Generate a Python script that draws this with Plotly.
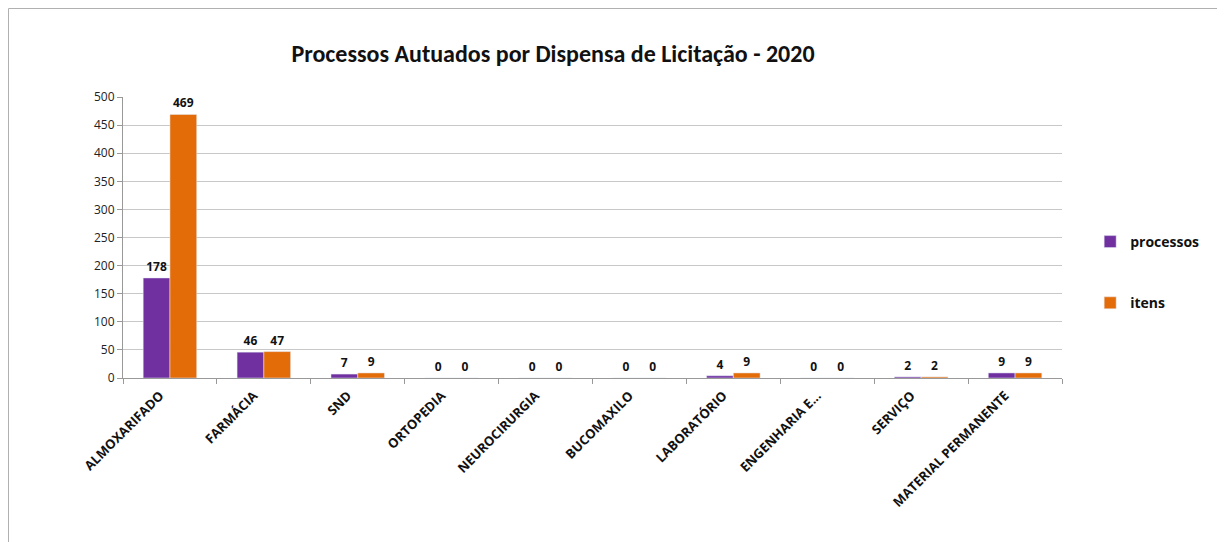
import plotly.graph_objects as go

categorias = [
    "ALMOXARIFADO", "FARMÁCIA", "SND", "ORTOPEDIA", "NEUROCIRURGIA",
    "BUCOMAXILO", "LABORATÓRIO", "ENGENHARIA E...", "SERVIÇO", "MATERIAL PERMANENTE",
]
processos = [178, 46, 7, 0, 0, 0, 4, 0, 2, 9]
itens = [469, 47, 9, 0, 0, 0, 9, 0, 2, 9]
y_ticks = [0, 50, 100, 150, 200, 250, 300, 350, 400, 450, 500]

FONT = "'Open Sans', sans-serif"
TITLE_FONT = "Carlito, 'Liberation Sans Narrow', 'Open Sans', sans-serif"
LABEL_FONT = dict(family=FONT, size=12, color="#111")

# a página tem ~8px de margem no corpo; as medidas abaixo já descontam isso
L, R, T, B = 115, 171, 89, 172
PW, PH = 1225 - L - R, 542 - T - B

fig = go.Figure()
fig.add_trace(go.Bar(
    x=categorias, y=processos, name="<b>processos</b>",
    marker=dict(color="#7030A0"),
    text=[f"<b>{v}</b>" for v in processos], textposition="outside",
    textfont=LABEL_FONT, cliponaxis=False, legendgroup="a",
))
fig.add_trace(go.Bar(
    x=categorias, y=itens, name="<b>itens</b>",
    marker=dict(color="#E36C09"),
    text=[f"<b>{v}</b>" for v in itens], textposition="outside",
    textfont=LABEL_FONT, cliponaxis=False, legendgroup="b",
))

# moldura (linha superior e esquerda)
frame = dict(color="#b0b0b0", width=1)
top = (542 - B - 0.5) / PH
left = (0.5 - L) / PW
fig.add_shape(type="line", xref="paper", yref="paper",
              x0=left, x1=(1225 - L) / PW, y0=top, y1=top, line=frame)
fig.add_shape(type="line", xref="paper", yref="paper",
              x0=left, x1=left, y0=-B / PH, y1=top, line=frame)

fig.update_layout(
    width=1225, height=542,
    margin=dict(l=L, r=R, t=T, b=B),
    paper_bgcolor="white", plot_bgcolor="white",
    title=dict(
        text="<b>Processos Autuados por Dispensa de Licitação - 2020</b>",
        x=545 / 1225, xanchor="center", y=1 - 46 / 542, yanchor="middle",
        font=dict(family=TITLE_FONT, size=24, color="#111"),
    ),
    barmode="group", bargap=0.43, bargroupgap=0,
    showlegend=True,
    legend=dict(
        x=1.03, y=(542 - B - 218) / PH, xanchor="left", yanchor="top",
        traceorder="grouped", tracegroupgap=40,
        font=dict(family=FONT, size=14, color="#111"),
        itemwidth=30,
    ),
    font=dict(family=FONT, color="#222"),
)
fig.update_xaxes(
    tickangle=-45, tickson="boundaries", ticks="outside", ticklen=5,
    tickcolor="#999", showline=True, linecolor="#999",
    ticklabelshift=-10, ticklabelstandoff=4,
    tickfont=dict(family=FONT, size=13, color="#111", weight="bold"),
)
fig.update_yaxes(
    range=[0, 500], tickvals=y_ticks, ticks="outside", ticklen=5,
    tickcolor="#999", showline=True, linecolor="#999",
    gridcolor="#c8c8c8", zeroline=False,
    tickfont=dict(family=FONT, size=12, color="#222"),
)

fig.write_html("out.html")
